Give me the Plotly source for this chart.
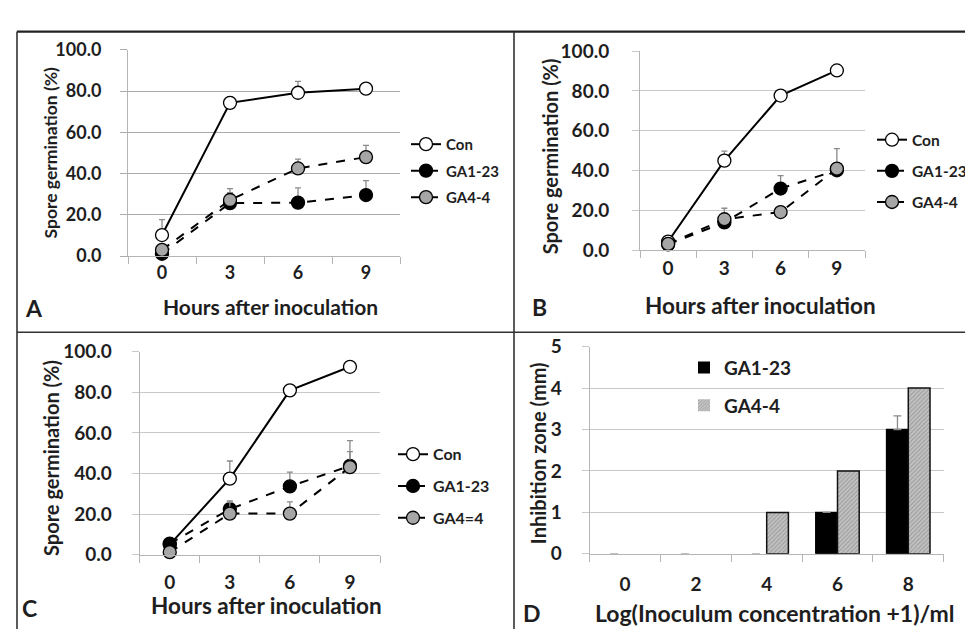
import plotly.graph_objects as go

# ---------------- data ----------------
hours = ["0", "3", "6", "9"]

A_con = [10.2, 74.3, 79.2, 81.2]
A_con_err = [7.5, 3.0, 5.5, 0.8]
A_ga1 = [1.1, 25.7, 25.9, 29.6]
A_ga1_err = [0.5, 5.0, 7.2, 7.0]
A_ga4 = [3.0, 27.2, 42.5, 48.0]
A_ga4_err = [0.8, 5.5, 4.5, 5.7]

B_con = [4.4, 45.0, 77.7, 90.3]
B_con_err = [3.0, 4.8, 0.8, 0.8]
B_ga1 = [3.0, 14.0, 31.0, 40.2]
B_ga1_err = [1.5, 3.0, 6.5, 3.0]
B_ga4 = [3.2, 15.6, 19.2, 41.0]
B_ga4_err = [1.5, 5.5, 0.8, 10.0]

C_con = [5.0, 37.5, 81.0, 92.6]
C_con_err = [1.0, 8.7, 0.8, 0.8]
C_ga1 = [5.5, 22.5, 33.7, 43.8]
C_ga1_err = [1.0, 4.0, 7.0, 7.0]
C_ga4 = [1.3, 20.3, 20.3, 43.2]
C_ga4_err = [0.5, 5.5, 5.8, 13.0]

conc = ["0", "2", "4", "6", "8"]
D_ga1 = [0, 0, 0, 1, 3]
D_ga1_err = [None, None, None, None, 0.33]
D_ga4 = [0, 0, 1, 2, 4]

names_ABC = [["Con", "GA1-23", "GA4-4"], ["Con", "GA1-23", "GA4-4"], ["Con", "GA1-23", "GA4=4"]]
names_D = ["GA1-23", "GA4-4"]

# ---------------- layout helpers ----------------
W, H = 973, 632
FONT = "Lato"
TXT = "#1e1e1e"


def px(x):
    return x / W


def py(y):
    return 1 - y / H


fig = go.Figure()

panels = [
    # suffix, data, x-domain px, y-domain px (top, bottom), tick size, grid color,
    # legend pos, legend gap, legend font size, x standoff, y standoff
    ("", (A_con, A_con_err, A_ga1, A_ga1_err, A_ga4, A_ga4_err), (120, 392), (31, 245), 18, "#ababab",
     (398, 112), 4, 15, 0, 15),
    ("2", (B_con, B_con_err, B_ga1, B_ga1_err, B_ga4, B_ga4_err), (632, 857), (32.3, 239), 19, "#c8c8c8",
     (864, 107), 8, 15.5, 1, 19),
    ("3", (C_con, C_con_err, C_ga1, C_ga1_err, C_ga4, C_ga4_err), (131.7, 372), (344.3, 555), 19, "#c8c8c8",
     (385, 433), 8, 16, 10, 16),
]

line_styles = [
    dict(color="black", width=2, dash="solid"),
    dict(color="black", width=2, dash="dash"),
    dict(color="black", width=2, dash="dash"),
]
marker_fill = ["white", "black", "#a6a6a6"]

for pi, (suf, d, xd, yd, tfs, gcol, lpos, lgap, lfs, xso, yso) in enumerate(panels):
    xa = "x" + suf
    ya = "y" + suf
    leg = "legend" + suf
    vals = [(d[0], d[1]), (d[2], d[3]), (d[4], d[5])]
    for si, (v, e) in enumerate(vals):
        fig.add_trace(go.Scatter(
            x=hours, y=v, xaxis=xa, yaxis=ya, name=names_ABC[pi][si],
            mode="lines+markers", line=line_styles[si],
            marker=dict(symbol="circle", size=13, color=marker_fill[si],
                        line=dict(color="black", width=1.3)),
            error_y=dict(type="data", symmetric=False, array=e, arrayminus=[0] * len(e),
                         color="#8a8a8a", thickness=1.3, width=3),
            cliponaxis=False, legend=leg, legendgroup=f"g{pi}{si}",
        ))
    xkey = "xaxis" + suf
    ykey = "yaxis" + suf
    fig.layout[xkey] = dict(
        domain=[px(xd[0]), px(xd[1])], anchor=ya, type="category",
        categoryorder="array", categoryarray=hours,
        range=[-0.5, 3.5], tickson="boundaries", ticks="outside", ticklen=7,
        tickcolor="#b5b5b5", showline=True, linecolor="#b5b5b5", linewidth=1,
        showgrid=False, zeroline=False, ticklabelstandoff=xso,
        tickfont=dict(family=FONT, size=tfs, color=TXT, weight="bold"),
    )
    fig.layout[ykey] = dict(
        domain=[py(yd[1]), py(yd[0])], anchor=xa, range=[0, 100], dtick=20,
        tickformat=".1f", ticks="outside", ticklen=7, tickcolor=gcol,
        showline=True, linecolor="#b5b5b5", linewidth=1,
        showgrid=True, gridcolor=gcol, gridwidth=1, zeroline=False,
        ticklabelstandoff=yso,
        tickfont=dict(family=FONT, size=tfs, color=TXT, weight="bold"),
    )
    fig.layout[leg] = dict(
        x=px(lpos[0]), y=py(lpos[1]), xanchor="left", yanchor="top",
        bgcolor="rgba(0,0,0,0)", borderwidth=0, tracegroupgap=lgap,
        font=dict(family=FONT, size=lfs, color=TXT, weight="bold"),
    )

# ---------------- panel D (bars) ----------------
fig.add_trace(go.Bar(
    x=conc, y=D_ga1, xaxis="x4", yaxis="y4", name=names_D[0],
    marker=dict(color="black", opacity=[1 if v else 0 for v in D_ga1],
                line=dict(color="black", width=[1.5 if v else 0 for v in D_ga1])),
    error_y=dict(type="data", symmetric=False, array=D_ga1_err, arrayminus=[0] * 5,
                 color="#8a8a8a", thickness=1.3, width=4),
    legend="legend4", legendgroup="d1",
))
fig.add_trace(go.Bar(
    x=conc, y=D_ga4, xaxis="x4", yaxis="y4", name=names_D[1],
    marker=dict(color="#b8b8b8", opacity=[1 if v else 0 for v in D_ga4],
                line=dict(color="#111111", width=[1.5 if v else 0 for v in D_ga4]),
                pattern=dict(shape="/", fgcolor="#767676", bgcolor="#c2c2c2",
                             size=3, solidity=0.35)),
    legend="legend4", legendgroup="d2",
))

fig.layout["xaxis4"] = dict(
    domain=[px(581.7), px(935.7)], anchor="y4", type="category",
    categoryorder="array", categoryarray=conc,
    range=[-0.5, 4.5], tickson="boundaries", ticks="outside", ticklen=7,
    tickcolor="#b5b5b5", showline=True, linecolor="#b5b5b5", linewidth=1,
    showgrid=False, zeroline=False, ticklabelstandoff=13,
    tickfont=dict(family=FONT, size=19, color=TXT, weight="bold"),
)
fig.layout["yaxis4"] = dict(
    domain=[py(554), py(339)], anchor="x4", range=[0, 5], dtick=1,
    ticks="outside", ticklen=7, tickcolor="#c8c8c8",
    showline=True, linecolor="#b5b5b5", linewidth=1,
    showgrid=True, gridcolor="#c8c8c8", gridwidth=1, zeroline=False,
    ticklabelstandoff=16,
    tickfont=dict(family=FONT, size=19, color=TXT, weight="bold"),
)
fig.layout["legend4"] = dict(
    x=px(676), y=py(341), xanchor="left", yanchor="top",
    bgcolor="rgba(0,0,0,0)", borderwidth=0, tracegroupgap=10,
    font=dict(family=FONT, size=19, color=TXT, weight="bold"),
)

# ---------------- titles & panel letters ----------------
ann = []


def text(x, y, s, size, angle=0, bold=True):
    ann.append(dict(xref="paper", yref="paper", x=px(x), y=py(y), text=s, showarrow=False,
                    xanchor="center", yanchor="middle", textangle=angle,
                    font=dict(family=FONT, size=size, color=TXT,
                              weight="bold" if bold else "normal")))


ytitle = "Spore germination (%)"
xtitle = "Hours after inoculation"
text(42, 137.5, ytitle, 17.5, -90)
text(262, 297, xtitle, 21)
text(542, 141.5, ytitle, 20, -90)
text(752, 296, xtitle, 22.5)
text(43, 454.5, ytitle, 20, -90)
text(258, 608, xtitle, 22.5)
text(530, 449.5, "Inhibition zone (mm)", 20, -90)
text(766, 615, "Log(Inoculum concentration +1)/ml", 23)

text(26, 299, "A", 23)
text(531, 298, "B", 23)
text(21, 610, "C", 23)
text(524, 615, "D", 23)

# ---------------- panel frame lines ----------------
shapes = []


def seg(x0, y0, x1, y1, w=1.6, c="#333333"):
    shapes.append(dict(type="line", xref="paper", yref="paper", x0=px(x0), y0=py(y0),
                       x1=px(x1), y1=py(y1), line=dict(color=c, width=w)))


seg(9, 12, 973, 12, 2.2, "#222222")
seg(9, 12, 9, 632)
seg(506, 12, 506, 632)
seg(9, 324, 973, 324)

fig.update_layout(
    width=W, height=H, margin=dict(l=0, r=0, t=0, b=0),
    paper_bgcolor="white", plot_bgcolor="white",
    barmode="group", bargap=0.387, bargroupgap=0,
    annotations=ann, shapes=shapes, showlegend=True,
)

fig.write_html("out.html")
